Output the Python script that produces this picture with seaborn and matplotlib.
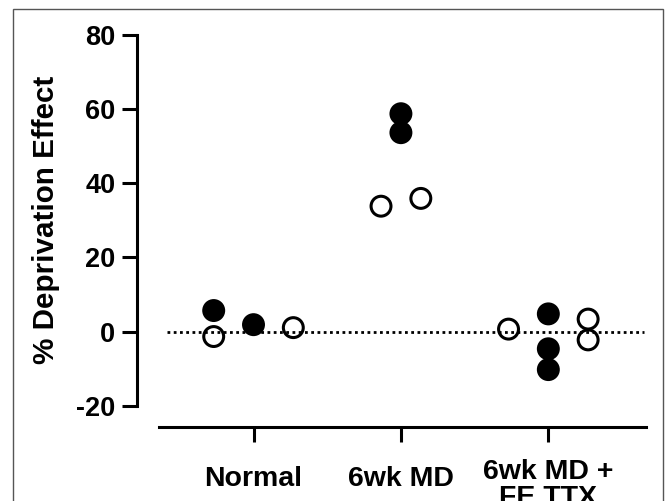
import pandas as pd
import seaborn as sns
import matplotlib
matplotlib.use('Agg')
from matplotlib import pyplot as plt
from matplotlib.patches import Rectangle

groups = ['Normal', '6wk MD', '6wk MD +\nFE TTX']

# one list per group: values, filled (True) / open (False), column slot in the group
normal_vals = [5.7, -1.3, 1.9, 1.1]
normal_fill = [True, False, True, False]
normal_slot = [-1, -1, 0, 1]

md_vals = [58.7, 53.6, 33.8, 35.9]
md_fill = [True, True, False, False]
md_slot = [0, 0, -0.5, 0.5]

ttx_vals = [0.7, 4.8, -4.6, -10.2, 3.4, -2.2]
ttx_fill = [False, True, True, True, False, False]
ttx_slot = [-1, 0, 0, 0, 1, 1]

rows = []
for gi, (vals, fill, slot) in enumerate([(normal_vals, normal_fill, normal_slot),
                                          (md_vals, md_fill, md_slot),
                                          (ttx_vals, ttx_fill, ttx_slot)]):
    for v, f, s in zip(vals, fill, slot):
        rows.append({'group': gi, 'x': gi + s * 0.27, 'value': v,
                     'fill': 'filled' if f else 'open'})
df = pd.DataFrame(rows)

sns.set_style('ticks')
plt.rcParams['font.family'] = ['Liberation Sans', 'DejaVu Sans']
plt.rcParams['font.weight'] = 'bold'
plt.rcParams['axes.unicode_minus'] = False
plt.rcParams['text.color'] = 'black'
plt.rcParams['axes.labelcolor'] = 'black'
plt.rcParams['xtick.color'] = 'black'
plt.rcParams['ytick.color'] = 'black'

fig = plt.figure(figsize=(6.67, 5.01), dpi=100)
ax = fig.add_axes([0.2384, 0.1477, 0.730, 0.798])

ax.axhline(0, xmin=0.016, xmax=0.996, color='black', linewidth=2.0,
           linestyle=(0, (1, 1.25)), zorder=1)

sns.scatterplot(data=df, x='x', y='value', hue='fill',
                palette={'filled': (0, 0, 0, 1), 'open': (1, 1, 1, 0)},
                edgecolor='black', linewidth=2.2, s=205, legend=False,
                clip_on=False, zorder=3, ax=ax)

ax.set_xlim(-0.641, 2.662)
ax.set_ylim(-25.66, 82)
ax.set_yticks([-20, 0, 20, 40, 60, 80])
ax.set_xticks([0, 1, 2])
ax.set_xticklabels(groups, fontsize=20.5, fontweight='bold', linespacing=1.0)
ax.tick_params(axis='y', labelsize=19.5, length=10.8, width=2.2, pad=4.5,
               color='black', labelcolor='black')
ax.tick_params(axis='x', length=10.8, width=2.2, pad=12,
               color='black', labelcolor='black')
for lab in ax.get_yticklabels():
    lab.set_fontweight('bold')
# single-line group names sit a little lower than the two-line one
for t in ax.xaxis.get_major_ticks()[:2]:
    t.set_pad(17)

ax.spines['top'].set_visible(False)
ax.spines['right'].set_visible(False)
ax.spines['left'].set_position(('outward', 16.1))
ax.spines['left'].set_bounds(-20, 80)
for sp in ['left', 'bottom']:
    ax.spines[sp].set_linewidth(2.2)
    ax.spines[sp].set_color('black')

ax.set_xlabel('')
ax.set_ylabel('% Deprivation Effect', fontsize=21.3, fontweight='bold', color='black')
ax.yaxis.label.set_va('center')
ax.yaxis.set_label_coords(-0.233, 0.519)

fig.patches.append(Rectangle((0.0195, -0.1), 0.9745, 1.082, transform=fig.transFigure,
                             fill=False, edgecolor='#555555', linewidth=1))

fig.savefig('out.png', dpi=100)
